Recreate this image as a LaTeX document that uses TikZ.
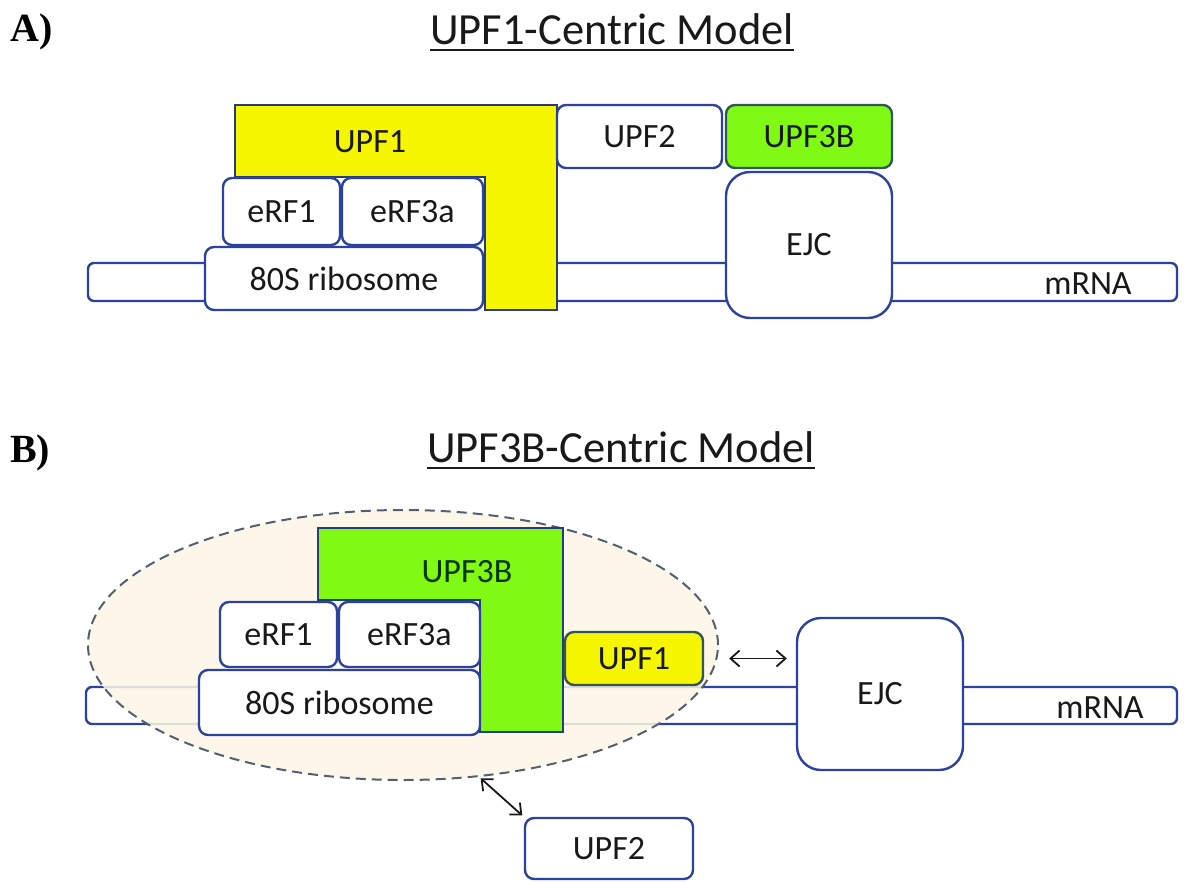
\documentclass[tikz,border=0pt]{standalone}
\usepackage{fontspec}
\setmainfont{Carlito}
\newfontfamily\panelfont{Liberation Serif}
\usetikzlibrary{shapes.geometric,arrows.meta}
\definecolor{edge}{RGB}{45,65,160}
\definecolor{ledge}{RGB}{40,60,125}
\definecolor{cedge}{RGB}{50,85,90}
\definecolor{upfyellow}{RGB}{246,246,0}
\definecolor{upfgreen}{RGB}{128,250,20}
\definecolor{halo}{RGB}{253,246,230}
\definecolor{dashcol}{RGB}{85,95,115}
\definecolor{txt}{RGB}{25,25,25}
\begin{document}
\begin{tikzpicture}[x=1pt,y=-1pt,
  every node/.style={text=txt},
  boxtext/.style={font=\fontsize{34}{38}\selectfont},
  box/.style={draw=edge, line width=2.4, fill=white, rounded corners=9, inner sep=0, boxtext},
  cbox/.style={box, draw=cedge},
  bigbox/.style={box, rounded corners=24},
  strand/.style={draw=edge, line width=2.4, fill=white, rounded corners=6, inner sep=0},
  lshape/.style={draw=ledge, line width=2.4},
  titletext/.style={font=\fontsize{44.5}{50}\selectfont, inner sep=0, anchor=base west},
  paneltext/.style={font=\panelfont\bfseries\fontsize{40}{46}\selectfont, inner sep=0, anchor=base west, text=black},
  uline/.style={line width=2.4, draw=txt},
  dbl/.style={{Straight Barb[length=9pt,width=16pt]}-{Straight Barb[length=9pt,width=16pt]}, line width=1.8, draw=txt}
]
\useasboundingbox (0,0) rectangle (1186,881);

% ---------------- Panel A ----------------
\node[paneltext] (labA) at (10,41) {A)};
\node[titletext] (tA) at (430,44) {UPF1-Centric Model};
\draw[uline] ([yshift=-6]tA.base west) -- ([yshift=-6]tA.base east);

\node[strand, minimum width=1089, minimum height=38] (mrnaA) at (632.5,282) {};
\node[boxtext] (mrnaAlab) at (1088,284) {mRNA};

\draw[lshape, fill=upfyellow] (235,105) -- (557,105) -- (557,310) -- (485,310) -- (485,177) -- (235,177) -- cycle;
\node[boxtext] (upf1Alab) at (370,142) {UPF1};

\node[box, minimum width=117, minimum height=67] (erf1A) at (281.5,211.5) {eRF1};
\node[box, minimum width=141, minimum height=67] (erf3A) at (412.5,211.5) {eRF3a};
\node[box, minimum width=278, minimum height=63] (riboA) at (344,278.5) {80S ribosome};

\node[box, minimum width=165, minimum height=63] (upf2A) at (639.5,136.5) {UPF2};
\node[cbox, fill=upfgreen, minimum width=166, minimum height=63] (upf3A) at (809,136.5) {UPF3B};
\node[bigbox, minimum width=166, minimum height=146] (ejcA) at (809,245) {EJC};

% ---------------- Panel B ----------------
\node[paneltext] (labB) at (10,462) {B)};
\node[titletext] (tB) at (427,462) {UPF3B-Centric Model};
\draw[uline] ([yshift=-6]tB.base west) -- ([yshift=-6]tB.base east);

\node[strand, minimum width=1091, minimum height=37] (mrnaB) at (631.5,705.5) {};
\node[ellipse, draw=dashcol, dashed, dash pattern=on 10pt off 6pt, line width=2, fill=halo, fill opacity=0.85,
      minimum width=630, minimum height=270, inner sep=0] (cplx) at (403,645) {};
\node[boxtext] (mrnaBlab) at (1100,708) {mRNA};

\draw[lshape, fill=upfgreen] (318,528) -- (563,528) -- (563,732) -- (480,732) -- (480,600) -- (318,600) -- cycle;
\node[boxtext, text=black!80!green] (upf3Blab) at (467,572) {UPF3B};

\node[box, minimum width=117, minimum height=65] (erf1B) at (278.5,634.5) {eRF1};
\node[box, minimum width=141, minimum height=65] (erf3B) at (409.5,634.5) {eRF3a};
\node[box, minimum width=281, minimum height=65] (riboB) at (339.5,702.5) {80S ribosome};
\node[cbox, fill=upfyellow, minimum width=138, minimum height=53] (upf1B) at (634,658.5) {UPF1};
\node[bigbox, minimum width=166, minimum height=152] (ejcB) at (880,694) {EJC};
\node[box, minimum width=168, minimum height=61] (upf2B) at (609,848.5) {UPF2};

\draw[dbl, shorten <=25pt, shorten >=9pt] (upf1B.east) -- (upf1B.east -| ejcB.west);
\draw[dbl, shorten <=2pt, shorten >=2pt] (cplx.-60) -- (upf2B.north west);
\end{tikzpicture}
\end{document}
